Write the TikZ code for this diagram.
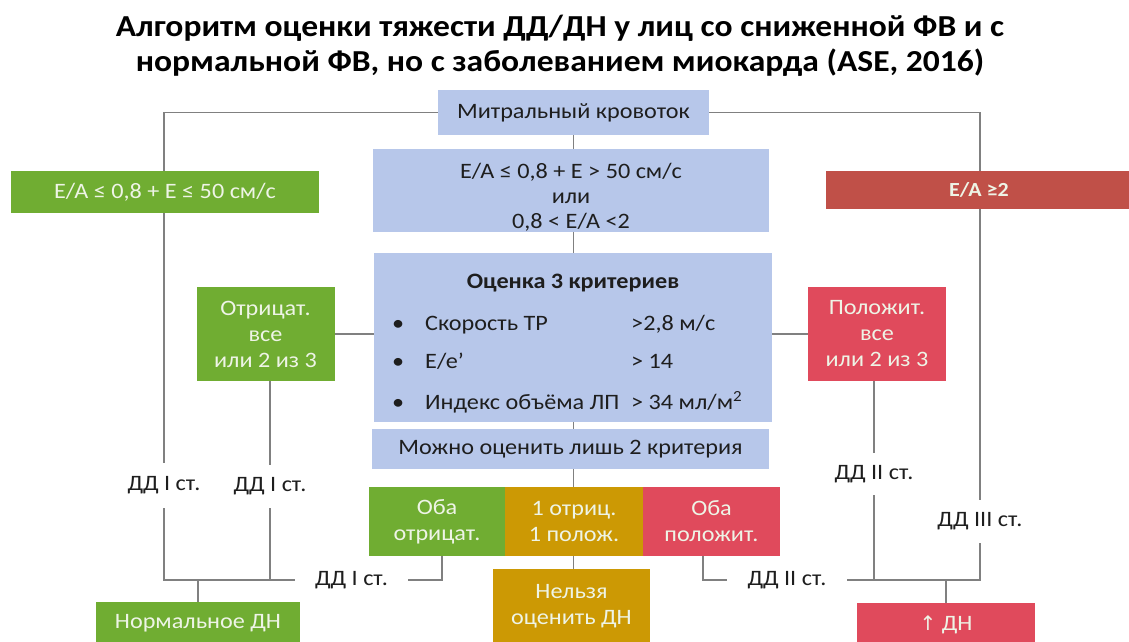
\documentclass[tikz,border=0pt]{standalone}
\usepackage{fontspec}
\setmainfont{Carlito}[FakeStretch=1.1]
\newfontfamily\dejavu{DejaVu Sans}
\definecolor{cblue}{RGB}{183,199,234}
\definecolor{cgreen}{RGB}{112,173,50}
\definecolor{cred}{RGB}{224,74,92}
\definecolor{cdred}{RGB}{192,80,72}
\definecolor{cgold}{RGB}{204,153,4}
\definecolor{cline}{RGB}{128,128,128}
\definecolor{ctext}{RGB}{30,30,30}
\definecolor{clight}{RGB}{238,244,230}
\pgfdeclarelayer{bglayer}
\pgfdeclarelayer{linelayer}
\pgfsetlayers{bglayer,linelayer,main}
\tikzset{
  box/.style={inner sep=0pt, align=center, font=\fontsize{22}{26}\selectfont},
  bluebox/.style={box, fill=cblue, text=ctext},
  greenbox/.style={box, fill=cgreen, text=clight},
  redbox/.style={box, fill=cred, text=clight},
  dredbox/.style={box, fill=cdred, text=clight},
  goldbox/.style={box, fill=cgold, text=clight},
  lbl/.style={inner xsep=0pt, inner ysep=0pt, text=ctext, font=\fontsize{22}{26}\selectfont},
  hlbl/.style={inner xsep=20pt, inner ysep=0pt, text=ctext, font=\fontsize{22}{26}\selectfont},
  conn/.style={draw=cline, line width=1.8pt},
  itemtxt/.style={inner sep=0pt, anchor=base west, text=ctext, font=\fontsize{22}{26}\selectfont},
}
\begin{document}
\begin{tikzpicture}[x=1pt,y=-1pt]
\useasboundingbox (0,0) rectangle (1129,641);
\begin{pgfonlayer}{bglayer}
\fill[white] (0,0) rectangle (1129,641);
\end{pgfonlayer}
% title
\node[align=center, font=\bfseries\fontsize{30.5}{35}\selectfont, text=black, inner sep=0pt] (title) at (560,46)
  {Алгоритм оценки тяжести ДД/ДН у лиц со сниженной ФВ и с\\нормальной ФВ, но с заболеванием миокарда (ASE, 2016)};
% labels
\node[lbl, minimum height=45pt] (l1) at (164,485.5) {ДД I ст.};
\node[lbl, minimum height=43pt] (l2) at (270,486.5) {ДД I ст.};
\node[hlbl] (l3) at (351.5,580) {ДД I ст.};
\node[hlbl] (l4) at (787,580) {ДД II ст.};
\node[lbl, minimum height=42pt] (l5) at (874,474) {ДД II ст.};
\node[lbl, minimum height=43pt] (l6) at (980,521.5) {ДД III ст.};
% boxes
\node[bluebox, minimum width=271pt, minimum height=45pt] (mk) at (573.5,112.5) {Митральный кровоток};
\node[bluebox, minimum width=396pt, minimum height=83pt] (b2) at (571,190.5) {};
\node[inner sep=0pt, align=center, text=ctext, font=\fontsize{22}{25}\selectfont] (b2t) at (571,197) {E/A ≤ 0,8 + E > 50 см/с\\или\\0,8 < E/A <2};
\node[bluebox, minimum width=398pt, minimum height=169pt] (b3) at (573,337.5) {};
\node[bluebox, minimum width=397pt, minimum height=40pt] (b4) at (570.5,449) {Можно оценить лишь 2 критерия};
\node[greenbox, minimum width=308pt, minimum height=42pt] (lg) at (165,192) {E/A ≤ 0,8 + E ≤ 50 см/с};
\node[dredbox, minimum width=306pt, minimum height=38pt] (rr) at (979,190) {\bfseries\fontsize{20}{24}\selectfont E/A ≥2};
\node[greenbox, minimum width=138pt, minimum height=94pt] (gneg) at (265.5,334) {Отрицат.\\все\\или 2 из 3};
\node[redbox, minimum width=138pt, minimum height=94pt] (rpos) at (877,334) {Положит.\\все\\или 2 из 3};
\node[greenbox, minimum width=136pt, minimum height=69pt] (o1) at (437,521.5) {Оба\\отрицат.};
\node[goldbox, minimum width=138pt, minimum height=69pt] (o2) at (574,521.5) {1 отриц.\\1 полож.};
\node[redbox, minimum width=137pt, minimum height=69pt] (o3) at (711.5,521.5) {Оба\\положит.};
\node[goldbox, minimum width=157pt, minimum height=75pt] (nel) at (571.5,606.5) {Нельзя\\оценить ДН};
\node[greenbox, minimum width=204pt, minimum height=42pt] (ndn) at (198,623) {Нормальное ДН};
\node[redbox, minimum width=178pt, minimum height=44pt] (udn) at (946,625) {{\dejavu\fontsize{20}{22}\selectfont ↑} ДН};
% contents of b3
\node[inner sep=0pt, text=ctext, font=\bfseries\fontsize{22}{26}\selectfont] (b3t) at (573,283) {Оценка 3 критериев};
\node[itemtxt] (bu1) at (392,330) {•};
\node[itemtxt] (bu2) at (392,368) {•};
\node[itemtxt] (bu3) at (392,409) {•};
\node[itemtxt] (i1) at (425,330) {Скорость ТР};
\node[itemtxt] (i2) at (425,368) {E/e’};
\node[itemtxt] (i3) at (425,409) {Индекс объёма ЛП};
\node[itemtxt] (v1) at (631,330) {>2,8 м/с};
\node[itemtxt] (v2) at (631,368) {> 14};
\node[itemtxt] (v3) at (631,409) {> 34 мл/м\textsuperscript{2}};
% connectors
\begin{pgfonlayer}{linelayer}
\draw[conn] (mk.west) -| (l1.north);
\draw[conn] (l1.south) |- (l3.west);
\draw[conn] (l2.north |- gneg.south) -- (l2.north);
\draw[conn] (l2.south) -- (l2.south |- l3.west);
\draw[conn] (ndn.north) -- (ndn.north |- l3.west);
\draw[conn] ([xshift=5pt]o1.south) |- (l3.east);
\draw[conn] (mk.south) -- (mk.south |- b2.north);
\draw[conn] (mk.south |- b2.south) -- (mk.south |- b3.north);
\draw[conn] (mk.south |- b3.south) -- (mk.south |- b4.north);
\draw[conn] (mk.south |- b4.south) -- (mk.south |- o2.north);
\draw[conn] (mk.south |- o2.south) -- (mk.south |- nel.north);
\draw[conn] (gneg.east) -- (b3.west |- gneg.east);
\draw[conn] (rpos.west) -- (b3.east |- rpos.west);
\draw[conn] (mk.east) -| (l6.north);
\draw[conn] (l6.south) |- (l4.east);
\draw[conn] (l5.north |- rpos.south) -- (l5.north);
\draw[conn] (l5.south) -- (l5.south |- l4.east);
\draw[conn] (udn.north) -- (udn.north |- l4.east);
\draw[conn] ([xshift=-8.5pt]o3.south) |- (l4.west);
\end{pgfonlayer}
\end{tikzpicture}
\end{document}
